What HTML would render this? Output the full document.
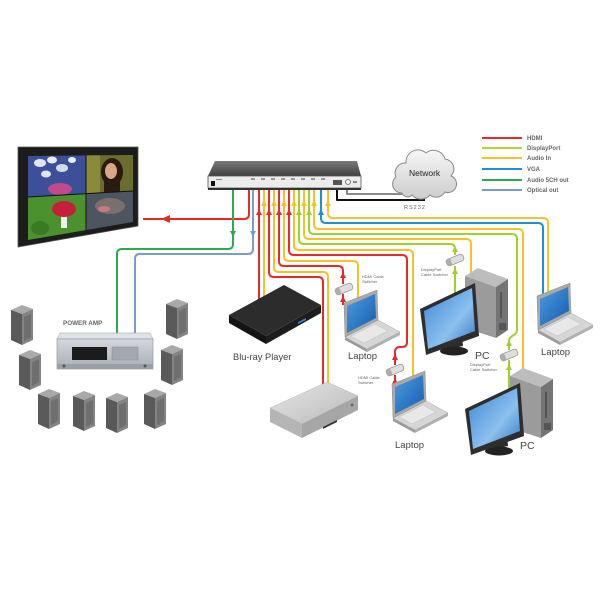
<!DOCTYPE html>
<html><head><meta charset="utf-8"><style>
html,body{margin:0;padding:0;background:#fff;}
svg{display:block;}
text{font-family:"Liberation Sans",Arial,sans-serif;}
</style></head><body>
<svg width="600" height="600" viewBox="0 0 600 600" xmlns="http://www.w3.org/2000/svg">
<defs>
 <linearGradient id="swtop" x1="0" y1="0" x2="0" y2="1"><stop offset="0" stop-color="#7a7a7a"/><stop offset="1" stop-color="#404040"/></linearGradient>
 <linearGradient id="cld" x1="0" y1="0" x2="0" y2="1"><stop offset="0" stop-color="#f6f6f6"/><stop offset="1" stop-color="#cdcdcd"/></linearGradient>
 <linearGradient id="scr" x1="0" y1="0" x2="1" y2="1"><stop offset="0" stop-color="#4f9be0"/><stop offset="1" stop-color="#135cae"/></linearGradient>
 <linearGradient id="mon" x1="0" y1="0" x2="1" y2="1"><stop offset="0" stop-color="#3b86d8"/><stop offset="0.6" stop-color="#8cc0ee"/><stop offset="1" stop-color="#2f74c4"/></linearGradient>
 <linearGradient id="amp" x1="0" y1="0" x2="0" y2="1"><stop offset="0" stop-color="#d4d7dd"/><stop offset="1" stop-color="#a9adb5"/></linearGradient>
 <linearGradient id="dvd" x1="0" y1="0" x2="1" y2="1"><stop offset="0" stop-color="#e6e6e6"/><stop offset="1" stop-color="#b9b9b9"/></linearGradient>
 <clipPath id="tvc"><polygon points="28,156 133,155 133,222 28,240"/></clipPath>
 <g id="spk">
  <path d="M1 5 L12 0 L23 4 L12 9 Z" fill="#a9a9a9"/>
  <path d="M1 5 L12 9 L12 40 L1 35 Z" fill="#5a5a5a"/>
  <path d="M12 9 L23 4 L23 35 L12 40 Z" fill="#838383"/>
  <path d="M14 12 L21 9 L21 32 L14 36 Z" fill="#6f6f6f"/>
 </g>
 <g id="lap">
  <polygon points="0,0 22,12 22,15 0,3" fill="#9a9a9a"/>
  <polygon points="22,12 55,-5 55,-2 22,15" fill="#b0b0b0"/>
  <polygon points="0,0 33,-17 55,-5 22,12" fill="#d6d6d6" stroke="#a8a8a8" stroke-width="0.5"/>
  <polygon points="6,-1 30,-13 43,-6 19,6" fill="#e8e8e8" stroke="#bdbdbd" stroke-width="0.5"/>
  <polygon points="-1,-34 32,-47 33,-17 0,0" fill="#a9a9a9" stroke="#8c8c8c" stroke-width="0.5"/>
  <polygon points="2,-31 30,-43 31,-19 2,-4" fill="url(#scr)"/>
 </g>
 <g id="pc">
  <polygon points="465,276 478,268 508,279 496,287" fill="#bdbdbd"/>
  <polygon points="465,276 496,287 496,338 465,328" fill="#9b9b9b"/>
  <polygon points="496,287 508,279 508,330 496,338" fill="#747474"/>
  <line x1="501" y1="292" x2="501" y2="318" stroke="#333" stroke-width="1"/>
  <rect x="499" y="323" width="7" height="7" fill="#555"/>
  <path d="M447 340 L462 336 L463 346 L449 349 Z" fill="#2c2c2c"/>
  <ellipse cx="454" cy="351" rx="14" ry="4.5" fill="#222"/>
  <polygon points="420,309 475,283 479,336 426,355" fill="#2e2e2e"/>
  <polygon points="424,311 472,288 475,331 428,349" fill="url(#mon)"/>
 </g>
 <g id="sw">
  <rect x="-9" y="-3.5" width="18" height="7" rx="2.5" fill="#dedede" stroke="#8c8c8c" stroke-width="0.7"/>
  <rect x="-9" y="-3.5" width="5" height="7" rx="1.5" fill="#adadad"/>
 </g>
</defs>

<rect width="600" height="600" fill="#fff"/>

<!-- TV -->
<polygon points="18,147 138,147 138,226 18,247" fill="#1c1c1c" stroke="#555" stroke-width="0.8"/>
<g clip-path="url(#tvc)">
 <rect x="28" y="150" width="58" height="48" fill="#3d4f98"/>
 <ellipse cx="40" cy="163" rx="6" ry="4" fill="#dfe6f2"/>
 <ellipse cx="52" cy="160" rx="5" ry="3.5" fill="#e8ecf4"/>
 <ellipse cx="62" cy="168" rx="6" ry="4" fill="#d2dbea"/>
 <ellipse cx="46" cy="174" rx="5" ry="3.5" fill="#dfe6f2"/>
 <ellipse cx="72" cy="160" rx="4" ry="3" fill="#e8ecf4"/>
 <ellipse cx="60" cy="189" rx="12" ry="6" fill="#c04a8c"/>
 <rect x="86" y="150" width="48" height="44" fill="#6a6d2c"/>
 <rect x="86" y="150" width="14" height="44" fill="#8a8a3a"/>
 <ellipse cx="112" cy="172" rx="11" ry="14" fill="#2a1a12"/>
 <ellipse cx="111" cy="171" rx="6" ry="8" fill="#d9a68a"/>
 <rect x="104" y="182" width="16" height="12" fill="#2a1a12"/>
 <polygon points="28,197 86,194 86,245 28,245" fill="#4b922f"/>
 <ellipse cx="40" cy="228" rx="9" ry="7" fill="#3a7a24"/>
 <rect x="61" y="210" width="6" height="18" fill="#eee"/>
 <ellipse cx="64" cy="209" rx="12" ry="8" fill="#c51f3c"/>
 <polygon points="86,194 134,191 134,230 86,240" fill="#4c5560"/>
 <ellipse cx="110" cy="206" rx="15" ry="8" fill="#7b6f6c"/>
 <ellipse cx="104" cy="209" rx="6" ry="3" fill="#c87a80"/>
 <line x1="86" y1="155" x2="86" y2="240" stroke="#111" stroke-width="1"/>
 <line x1="28" y1="197" x2="133" y2="191" stroke="#111" stroke-width="1"/>
</g>

<!-- Cables -->
<g fill="none" stroke-width="2" stroke-linejoin="round">
 <path d="M249 186 V214 Q249 219 244 219 H143" stroke="#e52a2a"/>
 <path d="M233 182 V244 Q233 249 228 249 H122 Q117 249 117 254 V336" stroke="#2fa84f"/>
 <path d="M253 186 V249 Q253 254 248 254 H140 Q135 254 135 259 V336" stroke="#7b9bc9"/>
 <path d="M259 186 V300" stroke="#e52a2a"/>
 <path d="M264 186 V298" stroke="#f6c12b"/>
 <path d="M269 186 V272 Q269 277 274 277 H318 Q323 277 323 282 V386" stroke="#e52a2a"/>
 <path d="M274 186 V267 Q274 272 279 272 H323 Q328 272 328 277 V386" stroke="#f6c12b"/>
 <path d="M279 186 V261 Q279 266 284 266 H338 Q343 266 343 271 V284 M343 294 V305" stroke="#e52a2a"/>
 <path d="M284 186 V256 Q284 261 289 261 H353 Q358 261 358 266 V299" stroke="#f6c12b"/>
 <path d="M289 186 V250 Q289 255 294 255 H402 Q407 255 407 260 V342 Q407 347 402 347 H400 Q395 347 395 352 V365 M395 375 V386" stroke="#e52a2a"/>
 <path d="M294 186 V245 Q294 250 299 250 H408 Q413 250 413 255 V378" stroke="#f6c12b"/>
 <path d="M299 186 V239 Q299 244 304 244 H450 Q455 244 455 249 V255 M455 266 V294" stroke="#9fd12e"/>
 <path d="M304 186 V234 Q304 239 309 239 H466 Q471 239 471 244 V275" stroke="#f6c12b"/>
 <path d="M309 186 V229 Q309 234 314 234 H512 Q517 234 517 239 V330 C517 336 509 335 509 341 V350 M509 360 V390" stroke="#9fd12e"/>
 <path d="M314 186 V224 Q314 229 319 229 H518 Q523 229 523 234 V371" stroke="#f6c12b"/>
 <path d="M321 186 V218 Q321 223 326 223 H538 Q543 223 543 228 V296" stroke="#1e90d6"/>
 <path d="M328 186 V213 Q328 218 333 218 H543 Q548 218 548 223 V294" stroke="#f6c12b"/>
 <path d="M337 186 V200 H425" stroke="#111"/>
 <path d="M347 186 V194 H402" stroke="#8a8a8a"/>
 <path d="M225 177 V182 H240 M230 177 V182 M235 177 V182 M240 177 V182" stroke="#2fa84f" stroke-width="1.5"/>
</g>

<!-- Arrowheads -->
<g>
 <polygon points="161,219 170,215 170,223" fill="#e52a2a"/>
 <polygon points="230,231 236,231 233,237" fill="#2fa84f"/>
 <polygon points="250,231 256,231 253,237" fill="#7b9bc9"/>
 <g fill="#f6c12b">
  <polygon points="261,206 264,200 267,206"/><polygon points="271,206 274,200 277,206"/>
  <polygon points="281,206 284,200 287,206"/><polygon points="291,206 294,200 297,206"/>
  <polygon points="301,206 304,200 307,206"/><polygon points="311,206 314,200 317,206"/>
  <polygon points="325,206 328,200 331,206"/>
 </g>
 <g fill="#e52a2a">
  <polygon points="256,215 259,209 262,215"/><polygon points="266,215 269,209 272,215"/>
  <polygon points="276,215 279,209 282,215"/><polygon points="286,215 289,209 292,215"/>
  <polygon points="340,278 343,272 346,278"/><polygon points="340,302 343,296 346,302"/>
  <polygon points="392,360 395,354 398,360"/><polygon points="392,384 395,378 398,384"/>
 </g>
 <g fill="#9fd12e">
  <polygon points="296,215 299,209 302,215"/><polygon points="306,215 309,209 312,215"/>
  <polygon points="452,252 455,246 458,252"/><polygon points="452,274 455,268 458,274"/>
  <polygon points="506,346 509,340 512,346"/><polygon points="506,370 509,364 512,370"/>
 </g>
 <polygon points="318,215 321,209 324,215" fill="#1e90d6"/>
</g>

<!-- Switch -->
<polygon points="215,161 357,161 361,176 208,176" fill="url(#swtop)"/>
<rect x="208" y="176" width="153" height="12" fill="#ececec" stroke="#555" stroke-width="0.8"/>
<rect x="208" y="188" width="153" height="2" fill="#333"/>
<rect x="211" y="181" width="4" height="5" fill="#111"/>
<rect x="216" y="179" width="6" height="1" fill="#888"/>
<g fill="#999">
 <rect x="251" y="178" width="4" height="2"/><rect x="261" y="178" width="4" height="2"/>
 <rect x="271" y="178" width="4" height="2"/><rect x="281" y="178" width="4" height="2"/>
 <rect x="291" y="178" width="4" height="2"/><rect x="301" y="178" width="4" height="2"/>
 <rect x="311" y="178" width="4" height="2"/><rect x="321" y="178" width="4" height="2"/>
</g>
<rect x="333" y="180" width="9" height="5" fill="#555"/>
<circle cx="348" cy="182" r="2.5" fill="none" stroke="#666" stroke-width="0.8"/>
<rect x="353" y="181" width="4" height="2" fill="#888"/>

<!-- Network cloud -->
<path d="M402 193 A9 9 0 0 1 396 177 A10 10 0 0 1 406 163 A12 12 0 0 1 426 153 A12 12 0 0 1 445 159 A10 10 0 0 1 451 176 A8 8 0 0 1 445 192 A10 10 0 0 1 430 195 A12 12 0 0 1 412 195 A6 6 0 0 1 402 193 Z" fill="url(#cld)" stroke="#8a8a8a" stroke-width="1"/>
<text x="409" y="176" font-size="8.5" fill="#222">Network</text>
<text x="404" y="209" font-size="5.5" fill="#666" letter-spacing="1">RS232</text>

<!-- Legend -->
<g stroke-width="2">
 <line x1="482" y1="138" x2="522" y2="138" stroke="#e52a2a"/>
 <line x1="482" y1="148" x2="522" y2="148" stroke="#b4d335"/>
 <line x1="482" y1="158" x2="522" y2="158" stroke="#f6c12b"/>
 <line x1="482" y1="169" x2="522" y2="169" stroke="#1e90d6"/>
 <line x1="482" y1="180" x2="522" y2="180" stroke="#2fa84f"/>
 <line x1="482" y1="190" x2="522" y2="190" stroke="#7b9bc9"/>
</g>
<g font-size="6" font-weight="bold" fill="#666">
 <text x="527" y="140">HDMI</text>
 <text x="527" y="150">DisplayPort</text>
 <text x="527" y="160">Audio In</text>
 <text x="527" y="171">VGA</text>
 <text x="527" y="182">Audio 5CH out</text>
 <text x="527" y="192">Optical out</text>
</g>

<!-- Power amp -->
<text x="63" y="325" font-size="6.3" font-weight="bold" fill="#666">POWER AMP</text>
<polygon points="60,333 150,333 153,339 57,339" fill="#dfe2e7" stroke="#9a9ea6" stroke-width="0.5"/>
<rect x="57" y="339" width="96" height="30" fill="url(#amp)" stroke="#8a8e96" stroke-width="0.6"/>
<rect x="72" y="347" width="35" height="13" fill="#1b1b1b"/>
<rect x="112" y="347" width="26" height="13" fill="#a3a7af" stroke="#8a8e96" stroke-width="0.5"/>
<rect x="57" y="364" width="96" height="5" fill="#9a9ea6"/>
<circle cx="64" cy="366" r="1.5" fill="#555"/><circle cx="145" cy="366" r="1.5" fill="#555"/>

<!-- Speakers -->
<use href="#spk" x="10" y="305"/>
<use href="#spk" x="18" y="350"/>
<use href="#spk" x="37" y="389"/>
<use href="#spk" x="72" y="391"/>
<use href="#spk" x="105" y="393"/>
<use href="#spk" x="143" y="389"/>
<use href="#spk" x="160" y="345"/>
<use href="#spk" x="165" y="299"/>

<!-- Blu-ray -->
<polygon points="229,315 266,336 266,344 229,323" fill="#141414"/>
<polygon points="266,336 321,305 321,313 266,344" fill="#1d1d1d"/>
<polygon points="229,315 284,285 321,305 266,336" fill="#2c2c2c"/>
<polygon points="298,322 306,318 306,320 298,324" fill="#3a7fd0"/>
<text x="233" y="360" font-size="9.3" fill="#444">Blu-ray Player</text>

<!-- Gray player -->
<polygon points="270,408 302,424 302,438 270,422" fill="#b5b5b5"/>
<polygon points="302,424 358,396 358,410 302,438" fill="#a6a6a6"/>
<polygon points="270,408 327,382 358,396 302,424" fill="url(#dvd)" stroke="#aaa" stroke-width="0.4"/>
<polygon points="323,427 337,420 337,422 323,429" fill="#333"/>
<circle cx="352" cy="405" r="1.5" fill="#666"/>

<!-- Laptops -->
<use href="#lap" x="345" y="337"/>
<text x="348" y="359" font-size="9.5" fill="#444">Laptop</text>
<use href="#lap" x="393" y="418"/>
<text x="395" y="448" font-size="9.5" fill="#444">Laptop</text>
<use href="#lap" x="538" y="330"/>
<text x="541" y="355" font-size="9.5" fill="#444">Laptop</text>

<!-- PCs -->
<use href="#pc" x="0" y="0"/>
<text x="475" y="359" font-size="10.5" fill="#444">PC</text>
<use href="#pc" x="45" y="100"/>
<text x="520" y="449" font-size="10.5" fill="#444">PC</text>

<!-- Cable switchers -->
<use href="#sw" transform="translate(344 289) rotate(-22)"/>
<use href="#sw" transform="translate(395 370) rotate(-22)"/>
<use href="#sw" transform="translate(455 260) rotate(-22)"/>
<use href="#sw" transform="translate(509 355) rotate(-22)"/>
<g font-size="4" fill="#666">
 <text x="362" y="278">HDMI Cable</text><text x="362" y="283">Switcher</text>
 <text x="358" y="379">HDMI Cable</text><text x="358" y="384">Switcher</text>
 <text x="421" y="271">DisplayPort</text><text x="421" y="276">Cable Switcher</text>
 <text x="470" y="366">DisplayPort</text><text x="470" y="371">Cable Switcher</text>
</g>
</svg>
</body></html>
